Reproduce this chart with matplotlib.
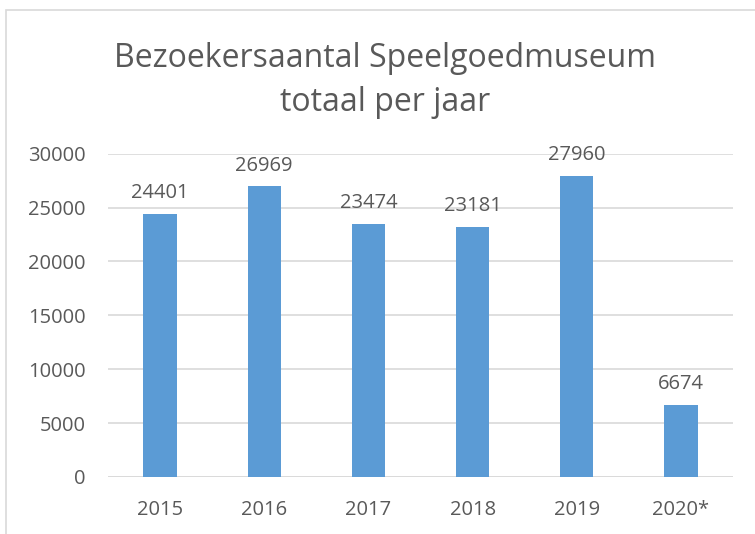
import matplotlib.pyplot as plt
from matplotlib.patches import Rectangle

# data
jaren = ['2015', '2016', '2017', '2018', '2019', '2020*']
bezoekers = [24401, 26969, 23474, 23181, 27960, 6674]

plt.rcParams['font.family'] = ['Open Sans', 'DejaVu Sans']
tekst = '#595959'

fig = plt.figure(figsize=(7.55, 5.34), dpi=100)
ax = fig.add_axes([0.143, 0.107, 0.828, 0.605])

x = range(len(jaren))
bars = ax.bar(x, bezoekers, width=0.32, color='#5B9BD5', zorder=3)
for xi, v in zip(x, bezoekers):
    ax.text(xi, v + 1000, str(v), ha='center', va='bottom', fontsize=14.5, color=tekst)

ax.set_xlim(-0.5, len(jaren) - 0.5)
ax.set_ylim(0, 30000)
ax.set_yticks(range(0, 30001, 5000))
ax.set_xticks(list(x))
ax.set_xticklabels(jaren)
ax.tick_params(axis='both', length=0, labelsize=14.5, labelcolor=tekst)
ax.tick_params(axis='x', pad=17)
ax.tick_params(axis='y', pad=16)
ax.grid(axis='y', color='#D9D9D9', linewidth=1.2, zorder=0)
for s in ax.spines.values():
    s.set_visible(False)
ax.axhline(0, color='#D9D9D9', linewidth=1.2, zorder=2)

fig.text(0.51, 0.849, 'Bezoekersaantal Speelgoedmuseum\ntotaal per jaar',
         ha='center', va='center', fontsize=23, color=tekst, linespacing=1.45)

# chart rand
fig.patches.append(Rectangle((6 / 755, -0.1), 1.2, 1 - 10 / 534 + 0.1,
                             transform=fig.transFigure, fill=False,
                             edgecolor='#D9D9D9', linewidth=1.2))

fig.savefig('out.png', dpi=100)
